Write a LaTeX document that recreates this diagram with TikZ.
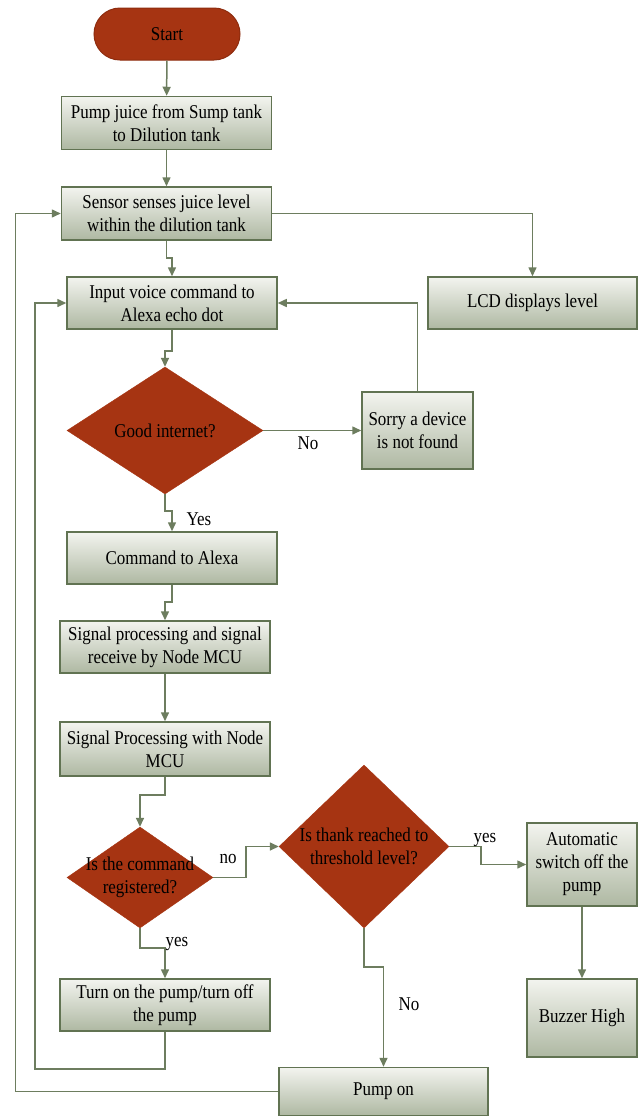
\documentclass[tikz,border=0pt]{standalone}
\usepackage{fontspec}
\setmainfont{Liberation Serif}[FakeStretch=0.87]
\usetikzlibrary{arrows.meta,shapes.geometric}
\definecolor{boxtop}{HTML}{F3F4EF}
\definecolor{boxbot}{HTML}{AEB8A2}
\definecolor{boxline}{HTML}{617352}
\definecolor{arrowc}{HTML}{6D7D5F}
\definecolor{redfill}{HTML}{A63412}
\definecolor{redline}{HTML}{8E2C0E}
\tikzset{
  procbox/.style={rectangle, draw=boxline, line width=1.5pt, top color=boxtop, bottom color=boxbot,
    inner sep=0pt, align=center, font=\fontsize{19.5}{23}\selectfont},
  termbox/.style={rectangle, rounded corners=26pt, draw=redline, line width=1pt, fill=redfill,
    inner sep=0pt, align=center, font=\fontsize{19.5}{23}\selectfont},
  decbox/.style={diamond, fill=redfill, draw=redfill, inner sep=0pt},
  dectext/.style={inner sep=0pt, align=center, font=\fontsize{19.5}{23}\selectfont},
  lbl/.style={inner sep=0pt, font=\fontsize{19.5}{23}\selectfont},
  conn/.style={draw=arrowc, line width=1.5pt, -{Triangle[length=9pt,width=8pt]}},
  plain/.style={draw=arrowc, line width=1.5pt}
}
\begin{document}
\begin{tikzpicture}[x=1pt,y=-1pt]
\useasboundingbox[fill=white] (0,0) rectangle (640,1117);
% nodes
\node[termbox, minimum width=146pt, minimum height=52pt] (start) at (167,34) {Start};
\node[procbox, minimum width=210pt, minimum height=53pt] (pump) at (166.5,123) {Pump juice from Sump tank\\to Dilution tank};
\node[procbox, minimum width=210pt, minimum height=53pt] (sensor) at (166.5,213.5) {Sensor senses juice level\\within the dilution tank};
\node[procbox, minimum width=210pt, minimum height=52pt] (input) at (172,303) {Input voice command to\\Alexa echo dot};
\node[procbox, minimum width=209pt, minimum height=52pt] (lcd) at (532.5,303) {LCD displays level};
\node[decbox, minimum width=196pt, minimum height=127pt] (good) at (165,430.5) {};
\node[dectext] (goodt) at (good) {Good internet?};
\node[procbox, minimum width=111pt, minimum height=77pt] (sorry) at (417.5,430.5) {Sorry a device\\is not found};
\node[procbox, minimum width=210pt, minimum height=52pt] (cmd) at (172,558) {Command to Alexa};
\node[procbox, minimum width=210pt, minimum height=52pt] (sig1) at (165,647) {Signal processing and signal\\receive by Node MCU};
\node[procbox, minimum width=210pt, minimum height=54pt] (sig2) at (165,749) {Signal Processing with Node\\MCU};
\node[decbox, minimum width=146pt, minimum height=101pt] (reg) at (140,877.5) {};
\node[dectext] (regt) at (reg) {Is the command\\registered?};
\node[decbox, minimum width=170pt, minimum height=163pt] (thr) at (364,846.5) {};
\node[dectext] (thrt) at (thr) {Is thank reached to\\threshold level?};
\node[procbox, minimum width=110pt, minimum height=83pt] (auto) at (582,864.5) {Automatic\\switch off the\\pump};
\node[procbox, minimum width=110pt, minimum height=78pt] (buzz) at (582,1018) {Buzzer High};
\node[procbox, minimum width=210pt, minimum height=52pt] (turn) at (165,1005) {Turn on the pump/turn off\\the pump};
\node[procbox, minimum width=209pt, minimum height=48pt] (pumpon) at (383.5,1091.5) {Pump on};
% helper coordinates
\coordinate (j1a) at (166.5,258); \coordinate (j1b) at (172,258);
\coordinate (j2a) at (172,351); \coordinate (j2b) at (165,351);
\coordinate (j3a) at (165,511); \coordinate (j3b) at (172,511);
\coordinate (j4a) at (172,602); \coordinate (j4b) at (165,602);
\coordinate (j5a) at (165,795); \coordinate (j5b) at (140,795);
\coordinate (j6a) at (246,877.5); \coordinate (j6b) at (246,846.5);
\coordinate (j7a) at (481,846.5); \coordinate (j7b) at (481,864.5);
\coordinate (j8a) at (364,967); \coordinate (j8b) at (383.5,967);
\coordinate (j9a) at (140,948); \coordinate (j9b) at (165,948);
\coordinate (l1a) at (165,1069); \coordinate (l1b) at (35,1069); \coordinate (l1c) at (35,303);
\coordinate (l2a) at (15.5,1091.5); \coordinate (l2b) at (15.5,213.5);
% connectors
\draw[conn] (start) -- (pump);
\draw[conn] (pump) -- (sensor);
\draw[conn] (sensor.south) -- (j1a) -- (j1b) -- (input.north);
\draw[conn] (sensor.east) -| (lcd.north);
\draw[conn] (input.south) -- (j2a) -- (j2b) -- (good.north);
\draw[conn] (good.east) -- (sorry.west);
\draw[conn] (sorry.north) |- (input.east);
\draw[conn] (good.south) -- (j3a) -- (j3b) -- (cmd.north);
\draw[conn] (cmd.south) -- (j4a) -- (j4b) -- (sig1.north);
\draw[conn] (sig1) -- (sig2);
\draw[conn] (sig2.south) -- (j5a) -- (j5b) -- (reg.north);
\draw[conn] (reg.east) -- (j6a) -- (j6b) -- (thr.west);
\draw[conn] (thr.east) -- (j7a) -- (j7b) -- (auto.west);
\draw[conn] (thr.south) -- (j8a) -- (j8b) -- (pumpon.north);
\draw[conn] (auto) -- (buzz);
\draw[conn] (reg.south) -- (j9a) -- (j9b) -- (turn.north);
\draw[conn] (turn.south) -- (l1a) -- (l1b) -- (l1c) -- (input.west);
\draw[conn] (pumpon.west) -- (l2a) -- (l2b) -- (sensor.west);
% labels
\node[lbl] (lno1) at (308,443) {No};
\node[lbl] (lyes1) at (199,519) {Yes};
\node[lbl] (lno2) at (228,859) {no};
\node[lbl] (lyes2) at (485,840) {yes};
\node[lbl] (lyes3) at (177,944) {yes};
\node[lbl] (lno3) at (409,1004) {No};
\end{tikzpicture}
\end{document}
